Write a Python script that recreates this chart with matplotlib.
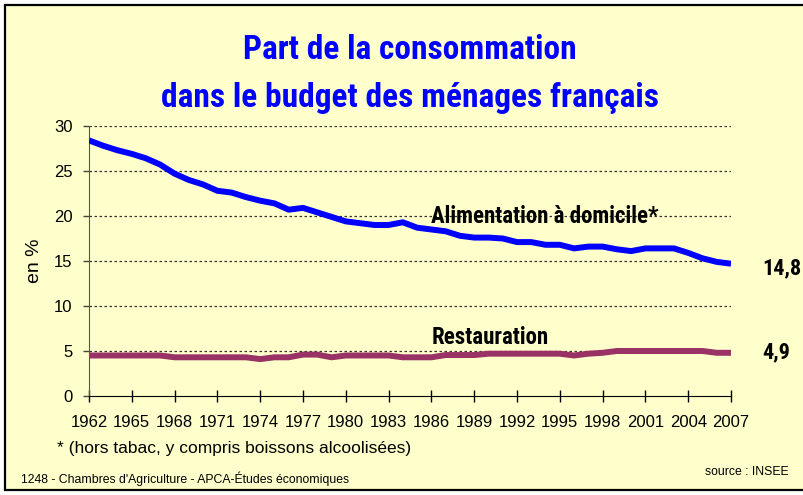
import matplotlib.pyplot as plt
from matplotlib.patches import Rectangle
import numpy as np

years = list(range(1962, 2008))
alimentation = [28.4, 27.8, 27.3, 26.9, 26.4, 25.7, 24.7, 24.0, 23.5, 22.8,
                22.6, 22.1, 21.7, 21.4, 20.7, 20.9, 20.4, 19.9, 19.4, 19.2,
                19.0, 19.0, 19.3, 18.7, 18.5, 18.3, 17.8, 17.6, 17.6, 17.5,
                17.1, 17.1, 16.8, 16.8, 16.4, 16.6, 16.6, 16.3, 16.1, 16.4,
                16.4, 16.4, 15.9, 15.3, 14.9, 14.7]
restauration = [4.5, 4.5, 4.5, 4.5, 4.5, 4.5, 4.3, 4.3, 4.3, 4.3,
                4.3, 4.3, 4.1, 4.3, 4.3, 4.6, 4.6, 4.3, 4.5, 4.5,
                4.5, 4.5, 4.3, 4.3, 4.3, 4.55, 4.55, 4.55, 4.7, 4.7,
                4.7, 4.7, 4.7, 4.7, 4.5, 4.7, 4.8, 5.0, 5.0, 5.0,
                5.0, 5.0, 5.0, 5.0, 4.8, 4.8]
tick_years = list(range(1962, 2008, 3))
yticks = [0, 5, 10, 15, 20, 25, 30]

narrow = ['Roboto Condensed', 'PT Sans Narrow', 'DejaVu Sans']
arial = ['Liberation Sans', 'Arimo', 'DejaVu Sans']
bg = '#FFFFCC'

fig = plt.figure(figsize=(8.04, 4.95), dpi=100)
fig.patch.set_facecolor('white')
fig.patches.append(Rectangle((5/804, 5/495), 1.2, 485/495, transform=fig.transFigure,
                             facecolor=bg, edgecolor='black', linewidth=1.6, zorder=-5))

ax = fig.add_axes([89/804, 0.2, 642/804, 0.5455])
ax.set_zorder(2)
ax.patch.set_alpha(0)
ax.plot(years, alimentation, color='#0000FF', linewidth=4.3, solid_capstyle='butt', zorder=3)
ax.plot(years, restauration, color='#993366', linewidth=4.3, solid_capstyle='butt', zorder=3)

ax.set_xlim(1962, 2007)
ax.set_ylim(0, 30)
ax.set_xticks(tick_years)
ax.set_xticklabels([str(y) for y in tick_years], family=arial, fontsize=12)
ax.set_yticks(yticks)
ax.set_yticklabels([str(v) for v in yticks], family=arial, fontsize=12)
ax.tick_params(axis='x', direction='inout', length=8, width=1, pad=10)
ax.tick_params(axis='y', direction='out', length=4, width=1, pad=8, colors='#444444', labelcolor='black')
for y in yticks[1:]:
    ax.axhline(y, color='#333333', linestyle=(0, (2, 2)), linewidth=0.9, zorder=1)
for s in ['top', 'right']:
    ax.spines[s].set_visible(False)
ax.spines['left'].set_color('#555555')
ax.spines['bottom'].set_color('black')
ax.set_ylabel('en %', family=arial, fontsize=14, labelpad=8)

ax.text(1986.0, 19.9, 'Alimentation à domicile*', fontsize=16.5, fontweight='bold',
        family=narrow, va='center', ha='left', zorder=4)
ax.text(1986.0, 6.55, 'Restauration', fontsize=16.5, fontweight='bold',
        family=narrow, va='center', ha='left', zorder=4)
ax.text(2009.2, 14.2, '14,8', fontsize=16, fontweight='bold', family=narrow,
        va='center', ha='left', clip_on=False)
ax.text(2009.2, 4.8, '4,9', fontsize=16, fontweight='bold', family=narrow,
        va='center', ha='left', clip_on=False)

fig.text(410/804, 0.899, 'Part de la consommation', fontsize=24, fontweight='bold',
         family=narrow, color='#0000FF', ha='center', va='center')
fig.text(410/804, 0.802, 'dans le budget des ménages français', fontsize=24, fontweight='bold',
         family=narrow, color='#0000FF', ha='center', va='center')

fig.text(57/804, 1 - 449/495, '* (hors tabac, y compris boissons alcoolisées)', fontsize=12.5,
         family=arial, ha='left', va='center')
fig.text(21/804, 1 - 479/495, "1248 - Chambres d'Agriculture - APCA-Études économiques", fontsize=8.8,
         family=arial, ha='left', va='center')
fig.text(789/804, 1 - 472/495, 'source : INSEE', fontsize=8.8,
         family=arial, ha='right', va='center')

fig.savefig('out.png', dpi=100, facecolor='white')
